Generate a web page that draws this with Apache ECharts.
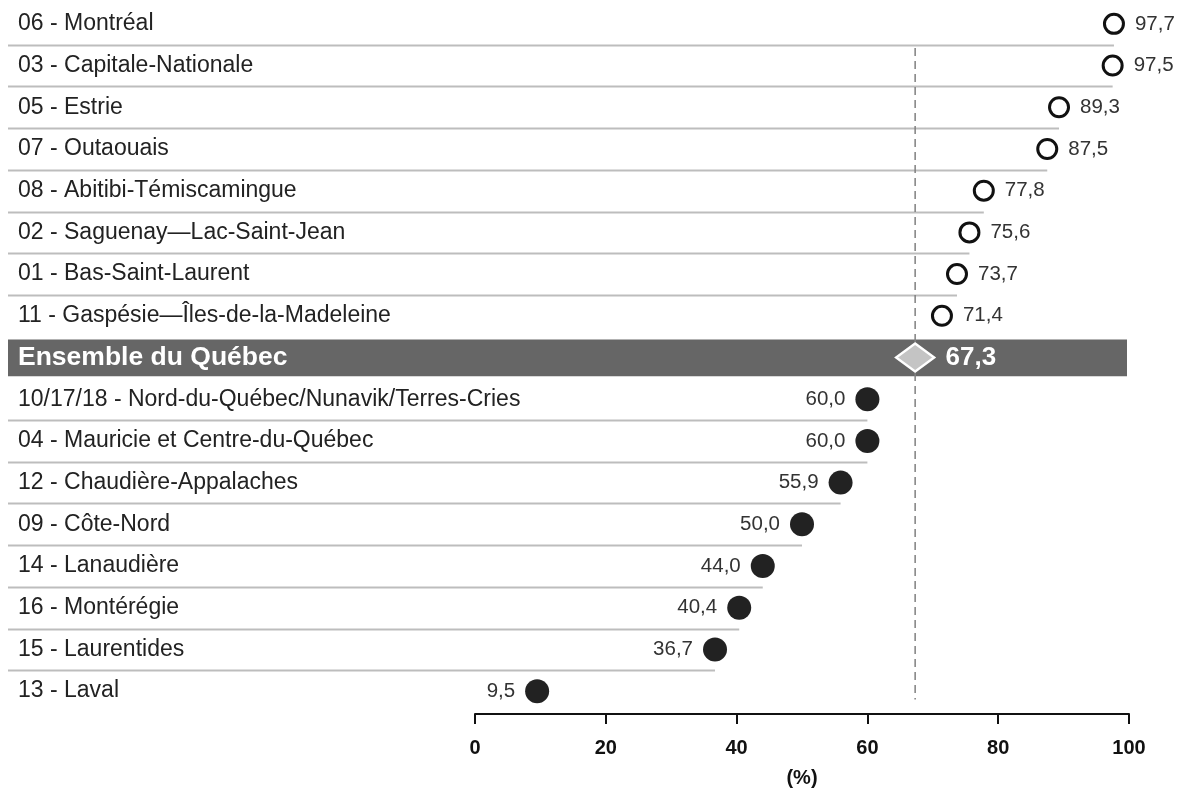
<!DOCTYPE html>
<html>
<head>
<meta charset="utf-8">
<script src="https://cdn.jsdelivr.net/npm/echarts@6/dist/echarts.min.js"></script>
<style>
html,body{margin:0;padding:0;background:#fff;}
#chart{width:1184px;height:793px;}
</style>
</head>
<body>
<div id="chart"></div>
<script>
// ---- data ----
const aboveNames = ["06 - Montréal","03 - Capitale-Nationale","05 - Estrie","07 - Outaouais","08 - Abitibi-Témiscamingue","02 - Saguenay—Lac-Saint-Jean","01 - Bas-Saint-Laurent","11 - Gaspésie—Îles-de-la-Madeleine"];
const aboveValues = [97.7,97.5,89.3,87.5,77.8,75.6,73.7,71.4];
const avgName = "Ensemble du Québec";
const avgValue = 67.3;
const belowNames = ["10/17/18 - Nord-du-Québec/Nunavik/Terres-Cries","04 - Mauricie et Centre-du-Québec","12 - Chaudière-Appalaches","09 - Côte-Nord","14 - Lanaudière","16 - Montérégie","15 - Laurentides","13 - Laval"];
const belowValues = [60.0,60.0,55.9,50.0,44.0,40.4,36.7,9.5];
const xTicks = [0,20,40,60,80,100];
const axisTitle = "(%)";

// ---- build ----
const categories = [...aboveNames, avgName, ...belowNames];
const fmt = v => v.toFixed(1).replace('.', ',');
const LEFT_EDGE = 8;

// separator rows: every row except the last row of each group
const sepData = [];
aboveNames.forEach((n,i)=>{ if(i < aboveNames.length-1) sepData.push([aboveValues[i], n]); });
belowNames.forEach((n,i)=>{ if(i < belowNames.length-1) sepData.push([belowValues[i], n]); });

const chart = echarts.init(document.getElementById('chart'), null, {renderer:'canvas'});
const FONT = '"Liberation Sans", Arial, Helvetica, sans-serif';

chart.setOption({
  animation:false,
  backgroundColor:'#fff',
  grid:{left:475, right:55, top:3, bottom:80, containLabel:false},
  xAxis:{
    type:'value', min:xTicks[0], max:xTicks[xTicks.length-1], interval:20,
    offset:2,
    axisLine:{show:true, lineStyle:{color:'#111', width:2}},
    axisTick:{show:true, length:10, inside:false, lineStyle:{color:'#111', width:2}},
    axisLabel:{show:true, margin:24, fontSize:20, fontWeight:'bold', color:'#111', fontFamily:FONT},
    splitLine:{show:false},
    name:axisTitle, nameLocation:'middle', nameGap:54,
    nameTextStyle:{fontSize:20, fontWeight:'bold', color:'#111', fontFamily:FONT}
  },
  yAxis:{
    type:'category', data:categories, inverse:true, z:10,
    axisLine:{show:false}, axisTick:{show:false}, splitLine:{show:false},
    axisLabel:{
      show:true, align:'left', margin:457, fontSize:23, color:'#222', fontFamily:FONT,
      formatter: v => v === avgName ? '{avg|' + v + '}' : v,
      rich:{avg:{fontSize:26.5, fontWeight:'bold', color:'#fff', fontFamily:FONT}}
    }
  },
  series:[
    { // average band
      type:'custom', z:1, silent:true,
      data:[[xTicks[xTicks.length-1], avgName]],
      renderItem:(params, api)=>{
        const p = api.coord([api.value(0), api.value(1)]);
        const h = api.size([0,1])[1];
        return {type:'rect', shape:{x:LEFT_EDGE, y:p[1]-h*0.43, width:p[0]-LEFT_EDGE-2, height:h*0.88},
          style:{fill:'#666'}};
      }
    },
    { // separator lines
      type:'custom', z:2, silent:true,
      data:sepData,
      renderItem:(params, api)=>{
        const p = api.coord([api.value(0), api.value(1)]);
        const h = api.size([0,1])[1];
        const y = Math.round(p[1]+h/2)+0.5;
        return {type:'line', shape:{x1:LEFT_EDGE, y1:y, x2:p[0], y2:y},
          style:{stroke:'#bdbdbd', lineWidth:2}};
      }
    },
    { // dashed average line
      type:'custom', z:2, silent:true,
      data:[[avgValue, categories[1], categories[categories.length-1]]],
      renderItem:(params, api)=>{
        const p1 = api.coord([api.value(0), api.value(1)]);
        const p2 = api.coord([api.value(0), api.value(2)]);
        const h = api.size([0,1])[1];
        return {type:'line', shape:{x1:p1[0], y1:p1[1]-h*0.42, x2:p2[0], y2:p2[1]+h*0.2},
          style:{stroke:'#808080', lineWidth:1.5, lineDash:[8,5]}};
      }
    },
    { // above average: open circles
      type:'scatter', z:5,
      data: aboveNames.map((n,i)=>[aboveValues[i], n]),
      symbol:'circle', symbolSize:19,
      itemStyle:{color:'#fff', borderColor:'#111', borderWidth:3, opacity:1},
      label:{show:true, position:'right', distance:10, fontSize:20.5, color:'#333', fontFamily:FONT,
        formatter:p=>fmt(p.value[0])}
    },
    { // below average: filled circles
      type:'scatter', z:5,
      data: belowNames.map((n,i)=>[belowValues[i], n]),
      symbol:'circle', symbolSize:24,
      itemStyle:{color:'#222', opacity:1},
      label:{show:true, position:'left', distance:10, fontSize:20.5, color:'#333', fontFamily:FONT,
        formatter:p=>fmt(p.value[0])}
    },
    { // average diamond
      type:'scatter', z:6,
      data:[[avgValue, avgName]],
      symbol:'diamond', symbolSize:[38,28],
      itemStyle:{color:'#c4c4c4', borderColor:'#fff', borderWidth:2.5, opacity:1},
      label:{show:true, position:'right', distance:10, fontSize:26, fontWeight:'bold', color:'#fff', fontFamily:FONT,
        formatter:p=>fmt(p.value[0])}
    }
  ]
});
</script>
</body>
</html>
